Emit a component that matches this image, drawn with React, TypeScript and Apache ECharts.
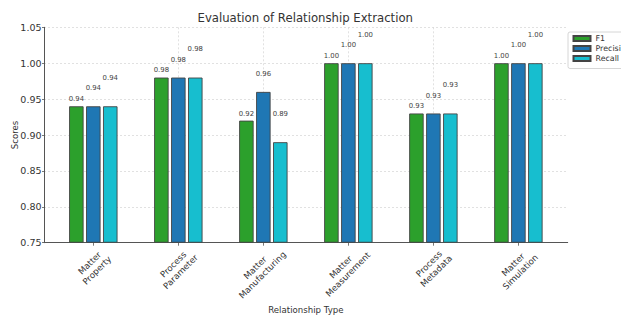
import React, { useEffect, useRef } from 'react';
import * as echarts from 'echarts';

// ---- data ----
const categories = [
  'Matter\nProperty',
  'Process\nParameter',
  'Matter\nManufacturing',
  'Matter\nMeasurement',
  'Process\nMetadata',
  'Matter\nSimulation',
];
const seriesNames = ['F1', 'Precision', 'Recall'];
const f1Values = [0.94, 0.98, 0.92, 1.0, 0.93, 1.0];
const precisionValues = [0.94, 0.98, 0.96, 1.0, 0.93, 1.0];
const recallValues = [0.94, 0.98, 0.89, 1.0, 0.93, 1.0];
const yMin = 0.75;
const yMax = 1.05;
const yInterval = 0.05;
const labelOffsets = [0.005, 0.02, 0.035]; // text offset above bar, in score units
const colors = ['#2ca02c', '#1f77b4', '#17becf'];

const FONT = '"DejaVu Sans", sans-serif';

// ---- layout ----
const plotLeft = 44;
const plotRight = 567.7;
const plotTop = 27.3;
const plotBottom = 242.7;
const xMin = -0.58;
const xMax = 5.58;

function measure(s: string, size: number): number {
  const c = document.createElement('canvas').getContext('2d');
  if (!c) return s.length * size * 0.6;
  c.font = `${size}px ${FONT}`;
  return c.measureText(s).width;
}

function buildOption() {
  const plotW = plotRight - plotLeft;
  const plotH = plotBottom - plotTop;
  const unit = plotW / (xMax - xMin);
  const barsLeft = plotLeft + (-0.5 - xMin) * unit;
  const barsW = categories.length * unit;
  const pxPerScore = plotH / (yMax - yMin);

  const xfs = 8.6;
  const xlh = 10.3;
  const blockH = 2 * xlh;
  const Hs = categories.map((c) => {
    const w = Math.max(...c.split('\n').map((l) => measure(l, xfs)));
    return 0.7071 * (w + blockH);
  });
  const Hmin = Math.min(...Hs);
  const yTop = 246.5;
  const margin = yTop + Hmin / 2 - plotBottom;
  const labelStyle = {
    align: 'center',
    verticalAlign: 'middle',
    fontSize: xfs,
    lineHeight: xlh,
    color: '#333',
    fontFamily: FONT,
  };
  const catData = categories.map((c, i) => {
    const p = (Hs[i] - Hmin) / 2 / 0.7071;
    return { value: c, textStyle: { ...labelStyle, padding: [p, p, 0, 0] } };
  });

  const allValues = [f1Values, precisionValues, recallValues];

  return {
    animation: false,
    textStyle: { fontFamily: FONT },
    title: {
      text: 'Evaluation of Relationship Extraction',
      left: 197.5,
      top: 12,
      padding: 0,
      textStyle: { fontSize: 11.7, fontWeight: 'normal', color: '#333', fontFamily: FONT },
    },
    legend: {
      data: seriesNames,
      orient: 'vertical',
      left: 568,
      top: 32,
      itemWidth: 17,
      itemHeight: 5,
      itemGap: 2,
      icon: 'rect',
      selectedMode: false,
      padding: [2.5, 40, 6, 4.5],
      borderColor: '#cccccc',
      borderWidth: 0.8,
      borderRadius: 2,
      backgroundColor: '#ffffff',
      textStyle: { fontSize: 7.9, color: '#333', fontFamily: FONT },
    },
    grid: [
      { left: plotLeft, top: plotTop, width: plotW, height: plotH, containLabel: false, outerBoundsMode: 'none' },
      { left: barsLeft, top: plotTop, width: barsW, height: plotH, containLabel: false, outerBoundsMode: 'none' },
    ],
    xAxis: [
      {
        type: 'value',
        gridIndex: 0,
        min: xMin,
        max: xMax,
        name: 'Relationship Type',
        nameLocation: 'middle',
        nameGap: 62.5,
        nameMoveOverlap: false,
        nameTextStyle: { fontSize: 8.6, color: '#333', fontFamily: FONT },
        axisLine: { show: true, onZero: false, lineStyle: { color: '#555', width: 1 } },
        axisTick: {
          show: true,
          customValues: categories.map((_, i) => i),
          length: 3,
          lineStyle: { color: '#555', width: 0.8 },
        },
        axisLabel: { show: false },
        splitLine: {
          show: true,
          showMinLine: false,
          showMaxLine: false,
          lineStyle: { color: '#d4d4d4', type: [2, 2], width: 0.7 },
        },
      },
      {
        type: 'category',
        gridIndex: 1,
        data: catData,
        axisLine: { show: false },
        axisTick: { show: false },
        splitLine: { show: false },
        axisLabel: {
          interval: 0,
          rotate: 45,
          margin: margin,
          hideOverlap: false,
          ...labelStyle,
        },
      },
    ],
    yAxis: [
      {
        type: 'value',
        gridIndex: 0,
        min: yMin,
        max: yMax,
        interval: yInterval,
        name: 'Scores',
        nameLocation: 'middle',
        nameGap: 25,
        nameMoveOverlap: false,
        nameTextStyle: { fontSize: 8.6, color: '#333', fontFamily: FONT },
        axisLine: { show: true, onZero: false, lineStyle: { color: '#555', width: 1 } },
        axisTick: { show: true, length: 2, lineStyle: { color: '#555', width: 0.8 } },
        axisLabel: {
          margin: 2.5,
          fontSize: 9.5,
          color: '#333',
          fontFamily: FONT,
          formatter: (v: number) => v.toFixed(2),
        },
        splitLine: {
          show: true,
          lineStyle: { color: '#d4d4d4', type: [2, 2], width: 0.7 },
        },
      },
      {
        type: 'value',
        gridIndex: 1,
        min: yMin,
        max: yMax,
        interval: yInterval,
        startValue: yMin,
        show: false,
        splitLine: { show: false },
      },
    ],
    series: seriesNames.map((name, si) => ({
      name,
      type: 'bar',
      xAxisIndex: 1,
      yAxisIndex: 1,
      data: allValues[si],
      barWidth: 14.5,
      barGap: '17%',
      clip: true,
      itemStyle: { color: colors[si], borderColor: '#444', borderWidth: 0.9 },
      label: {
        show: true,
        position: 'top',
        distance: labelOffsets[si] * pxPerScore,
        fontSize: 6.9,
        color: '#444',
        fontFamily: FONT,
        formatter: (p: any) => Number(p.value).toFixed(2),
      },
    })),
  };
}

export default function App() {
  const ref = useRef<HTMLDivElement>(null);
  useEffect(() => {
    if (!ref.current) return;
    const chart = echarts.init(ref.current, undefined, { renderer: 'svg' });
    chart.setOption(buildOption() as any);
    return () => chart.dispose();
  }, []);
  return (
    <div
      ref={ref}
      style={{ position: 'fixed', left: 0, top: 0, width: 621, height: 315, background: '#fff' }}
    />
  );
}
